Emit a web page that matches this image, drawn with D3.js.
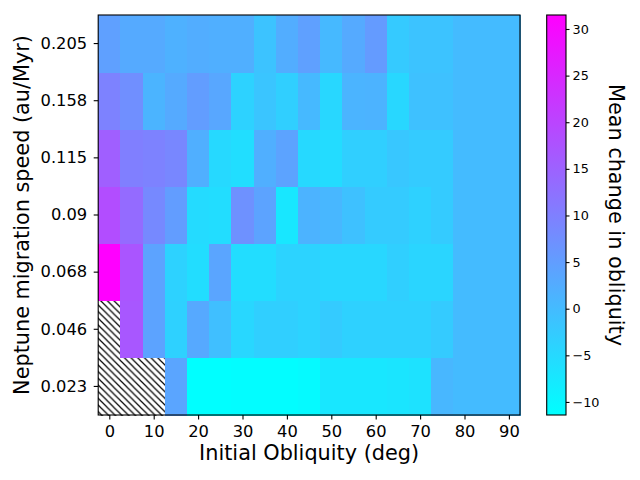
<!DOCTYPE html>
<html>
<head>
<meta charset="utf-8">
<script src="https://cdn.jsdelivr.net/npm/d3@7"></script>
<style>
  body { margin: 0; background: #fff; }
  svg { font-family: "DejaVu Sans", sans-serif; display: block; }
</style>
</head>
<body>
<script>
// initial obliquity of each column (deg)
const obliquity = [0, 5, 10, 15, 20, 25, 30, 35, 40, 45, 50, 55, 60, 65, 70, 75, 80, 85, 90];
// Neptune migration speed of each row (au/Myr), bottom to top
const speeds = ["0.023", "0.046", "0.068", "0.09", "0.115", "0.158", "0.205"];

// mean change in obliquity per row (null = no data, hatched)
const row023 = [null, null, null, 3.7, -11.4, -11.4, -11.0, -11.0, -11.0, -10.5, -7.4, -7.4, -7.4, -7.0, -6.5, 0.7, 0, 0, 0];
const row046 = [null, 16.9, 4.1, -3.7, 3.1, -0.6, -4.7, -3.3, -3.3, -4.0, -2.7, -3.7, -3.7, -3.7, -3.7, -2.7, 0, 0, 0];
const row068 = [31.5, 17.2, 4.1, -3.8, -5.7, 3.7, -5.7, -5.7, -4.0, -4.0, -4.7, -4.7, -4.7, -3.3, -4.3, -4.3, 0, 0, 0];
const row090 = [18.5, 13.5, 8.4, 5.1, -5.3, -5.7, 7.1, 4.1, -7.4, 1.4, 0.7, -1.0, -2.7, -2.7, -3.7, -2.7, 0, 0, 0];
const row115 = [15.5, 10.1, 9.6, 8.8, 2.1, -5.0, -5.8, 2.1, 4.1, -5.0, -5.5, -3.3, -3.3, -2.0, -2.7, -2.7, 0, 0, 0];
const row158 = [9.6, 7.4, 1.2, 2.9, 5.1, 3.4, -3.8, -1.6, -3.3, 0.4, -4.7, 1.2, 1.4, -4.7, -1.0, -1.0, 0, 0, 0];
const row205 = [4.6, 2.9, 2.9, 1.7, 2.4, 2.1, 2.1, -1.3, 2.4, 4.6, 0.4, 2.9, 5.4, -2.5, -1.3, -1.3, 0, 0, 0];
const rows = [row023, row046, row068, row090, row115, row158, row205];

const xTicks = [0, 10, 20, 30, 40, 50, 60, 70, 80, 90];
const cbarTicks = [-10, -5, 0, 5, 10, 15, 20, 25, 30];

const width = 640, height = 480;
const plot = { left: 98.2, right: 520, top: 15, bottom: 415 };
const cbar = { left: 546.7, right: 566 };

const svg = d3.select("body").append("svg")
    .attr("width", width)
    .attr("height", height);

svg.append("rect").attr("width", width).attr("height", height).attr("fill", "#fff");

// hatch for missing cells
const defs = svg.append("defs");
const s = 6.67;
defs.append("pattern")
    .attr("id", "hatch")
    .attr("patternUnits", "userSpaceOnUse")
    .attr("width", s).attr("height", s)
    .call(p => {
        p.append("rect").attr("width", s).attr("height", s).attr("fill", "#fff");
        p.append("path")
            .attr("d", `M0,0L${s},${s}M${s - 1},-1L${s + 1},1M-1,${s - 1}L1,${s + 1}`)
            .attr("stroke", "#000")
            .attr("stroke-width", 1.2);
    });

// matplotlib "cool"
const cells = [];
rows.forEach((r, i) => r.forEach((v, j) => cells.push({ speed: speeds[i], obl: obliquity[j], v })));
const vals = cells.filter(d => d.v !== null).map(d => d.v);
const vmin = d3.min(vals), vmax = d3.max(vals);
const color = d3.scaleLinear()
    .domain([vmin, vmax])
    .range(["#00ffff", "#ff00ff"])
    .interpolate(d3.interpolateRgb);

const x = d3.scaleLinear()
    .domain([-2.5, 92.5])
    .range([plot.left, plot.right]);
const y = d3.scaleBand()
    .domain(speeds)
    .range([plot.bottom, plot.top]);

const cw = x(5) - x(0);

svg.append("g")
    .attr("shape-rendering", "crispEdges")
    .selectAll("rect")
    .data(cells)
    .enter().append("rect")
    .attr("x", d => x(d.obl - 2.5))
    .attr("y", d => y(d.speed))
    .attr("width", cw + 0.5)
    .attr("height", y.bandwidth() + 0.5)
    .attr("fill", d => d.v === null ? "url(#hatch)" : color(d.v));

// axes
const xAxis = svg.append("g")
    .attr("transform", `translate(0,${plot.bottom})`)
    .call(d3.axisBottom(x).tickValues(xTicks).tickSize(4.5).tickPadding(5.5));
const yAxis = svg.append("g")
    .attr("transform", `translate(${plot.left},0)`)
    .call(d3.axisLeft(y).tickSize(4.5).tickPadding(6.5));

[xAxis, yAxis].forEach(g => {
    g.select(".domain").remove();
    g.selectAll("line").attr("stroke", "#000").attr("stroke-width", 1.1);
    g.selectAll("text").attr("font-size", 16.3).attr("fill", "#000")
        .attr("font-family", "DejaVu Sans");
});

svg.append("rect")
    .attr("x", plot.left).attr("y", plot.top)
    .attr("width", plot.right - plot.left).attr("height", plot.bottom - plot.top)
    .attr("fill", "none").attr("stroke", "#000").attr("stroke-width", 1.1);

svg.append("text")
    .attr("x", (plot.left + plot.right) / 2)
    .attr("y", 460)
    .attr("text-anchor", "middle")
    .attr("font-size", 20.8)
    .text("Initial Obliquity (deg)");

svg.append("text")
    .attr("transform", `translate(28.5,${(plot.top + plot.bottom) / 2}) rotate(-90)`)
    .attr("text-anchor", "middle")
    .attr("font-size", 20.8)
    .text("Neptune migration speed (au/Myr)");

// colorbar
const cy = d3.scaleLinear().domain([vmin, vmax]).range([plot.bottom, plot.top]);
const grad = defs.append("linearGradient")
    .attr("id", "cbar")
    .attr("x1", 0).attr("y1", 1).attr("x2", 0).attr("y2", 0);
grad.selectAll("stop")
    .data([vmin, vmax])
    .enter().append("stop")
    .attr("offset", (d, i) => i)
    .attr("stop-color", d => color(d));

svg.append("rect")
    .attr("x", cbar.left).attr("y", plot.top)
    .attr("width", cbar.right - cbar.left).attr("height", plot.bottom - plot.top)
    .attr("fill", "url(#cbar)")
    .attr("stroke", "#000").attr("stroke-width", 1.1);

const cAxis = svg.append("g")
    .attr("transform", `translate(${cbar.right},0)`)
    .call(d3.axisRight(cy).tickValues(cbarTicks).tickSize(3.5).tickPadding(3));
cAxis.select(".domain").remove();
cAxis.selectAll("line").attr("stroke", "#000").attr("stroke-width", 1.1);
cAxis.selectAll("text").attr("font-size", 12.8).attr("fill", "#000")
    .attr("font-family", "DejaVu Sans");

svg.append("text")
    .attr("transform", `translate(608.5,${(plot.top + plot.bottom) / 2}) rotate(90)`)
    .attr("text-anchor", "middle")
    .attr("font-size", 20.8)
    .text("Mean change in obliquity");
</script>
</body>
</html>
